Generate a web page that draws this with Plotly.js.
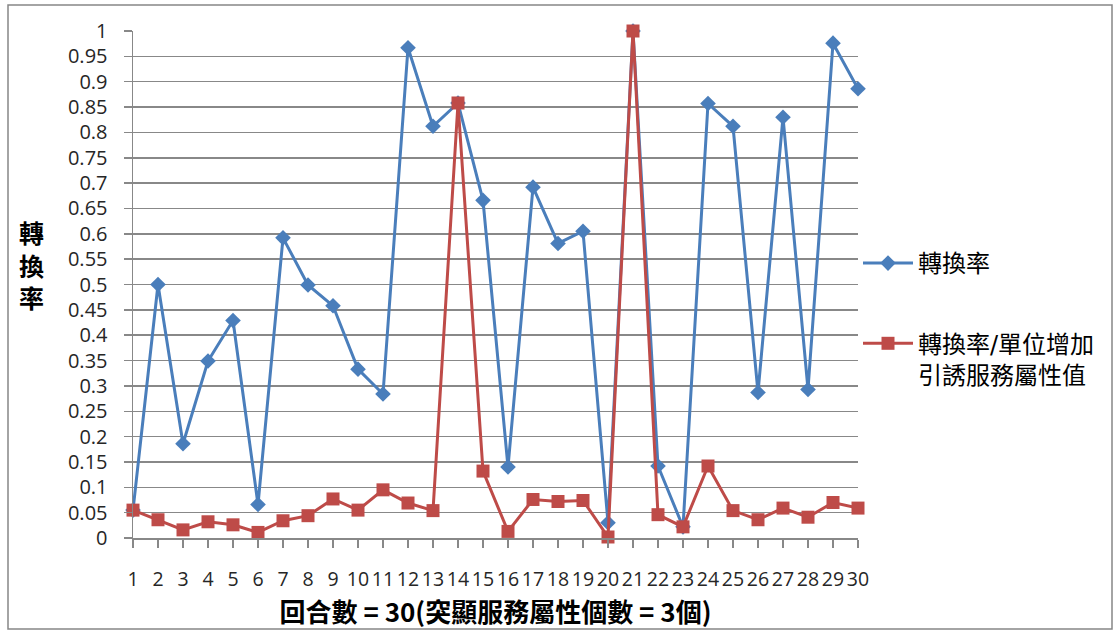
<!DOCTYPE html>
<html>
<head>
<meta charset="utf-8">
<script src="https://cdn.plot.ly/plotly-3.0.1.min.js"></script>
<style>
  html, body { margin: 0; padding: 0; background: #ffffff; }
  #chart { width: 1120px; height: 634px; }
</style>
</head>
<body>
<div id="chart"></div>
<script>
// ---- data ----
const rounds = [1, 2, 3, 4, 5, 6, 7, 8, 9, 10, 11, 12, 13, 14, 15, 16, 17, 18, 19, 20, 21, 22, 23, 24, 25, 26, 27, 28, 29, 30];
const roundLabels = ['1', '2', '3', '4', '5', '6', '7', '8', '9', '10', '11', '12', '13', '14', '15', '16', '17', '18', '19', '20', '21', '22', '23', '24', '25', '26', '27', '28', '29', '30'];
const conversionRate = [0.055, 0.5, 0.186, 0.349, 0.429, 0.066, 0.592, 0.499, 0.458, 0.333, 0.284, 0.967, 0.812, 0.858, 0.666, 0.14, 0.692, 0.581, 0.605, 0.03, 1.0, 0.142, 0.022, 0.857, 0.812, 0.287, 0.83, 0.293, 0.976, 0.886];
const ratePerUnit = [0.055, 0.036, 0.016, 0.032, 0.026, 0.011, 0.034, 0.044, 0.077, 0.055, 0.095, 0.069, 0.054, 0.858, 0.132, 0.013, 0.076, 0.072, 0.074, 0.002, 1.0, 0.046, 0.022, 0.142, 0.054, 0.036, 0.059, 0.041, 0.07, 0.059];
const yTickVals = [0, 0.05, 0.1, 0.15, 0.2, 0.25, 0.3, 0.35, 0.4, 0.45, 0.5, 0.55, 0.6, 0.65, 0.7, 0.75, 0.8, 0.85, 0.9, 0.95, 1];
const yTickText = ['0', '0.05', '0.1', '0.15', '0.2', '0.25', '0.3', '0.35', '0.4', '0.45', '0.5', '0.55', '0.6', '0.65', '0.7', '0.75', '0.8', '0.85', '0.9', '0.95', '1'];
const seriesNames = ['轉換率', '轉換率/單位增加<br>引誘服務屬性值'];
const xTitle = '回合數 = 30(突顯服務屬性個數 = 3個)';
const yTitleChars = ['轉', '換', '率'];

const blue = '#4a7ebb';
const red = '#be4b48';
const grid = '#888888';
const cjk = '"DejaVu Sans", "Noto Sans CJK TC", sans-serif';
const cjkTitle = '"Noto Sans CJK TC", "Noto Sans CJK SC", sans-serif';
const num = '"Open Sans", "Liberation Sans", sans-serif';

const traces = [
  {
    x: rounds, y: conversionRate, name: seriesNames[0], legendgroup: 'a',
    type: 'scatter', mode: 'lines+markers', cliponaxis: false,
    line: { color: blue, width: 3 },
    marker: { symbol: 'diamond', size: 12, color: blue }
  },
  {
    x: rounds, y: ratePerUnit, name: seriesNames[1], legendgroup: 'b',
    type: 'scatter', mode: 'lines+markers', cliponaxis: false,
    line: { color: red, width: 3 },
    marker: { symbol: 'square', size: 13, color: red }
  }
];

const L = 133, R = 262, T = 31, B = 96, W = 1120, H = 634;
const pw = W - L - R, ph = H - T - B;
function px2x(p) { return (p - L) / pw; }
function px2y(p) { return 1 - (p - T) / ph; }

const yTitleY = [234, 267, 299];
const annotations = yTitleChars.map((c, i) => ({
  text: c, xref: 'paper', yref: 'paper',
  x: px2x(31), y: px2y(yTitleY[i]), xanchor: 'center', yanchor: 'middle',
  showarrow: false,
  font: { family: cjk, size: 25, weight: 700, color: '#000000' }
}));

const layout = {
  width: W, height: H,
  margin: { l: L, r: R, t: T, b: B, pad: 0 },
  paper_bgcolor: '#ffffff', plot_bgcolor: '#ffffff',
  showlegend: true,
  xaxis: {
    range: [1, 30], tickmode: 'array', tickvals: rounds, ticktext: roundLabels,
    tickangle: 0,
    showgrid: false, zeroline: false,
    showline: true, linecolor: grid, linewidth: 1.5,
    ticks: 'outside', ticklen: 8, tickwidth: 1.5, tickcolor: grid,
    tickfont: { family: num, size: 19.5, color: '#262626' },
    ticklabelstandoff: 15,
    title: { text: xTitle, font: { family: cjkTitle, size: 26, weight: 700, color: '#000000' }, standoff: 2 }
  },
  yaxis: {
    range: [0, 1], tickmode: 'array', tickvals: yTickVals, ticktext: yTickText,
    showgrid: true, gridcolor: grid, gridwidth: 1.5, zeroline: false,
    showline: true, linecolor: grid, linewidth: 1.5,
    ticks: 'outside', ticklen: 8, tickwidth: 1.5, tickcolor: grid,
    tickfont: { family: num, size: 20, color: '#262626' },
    ticklabelstandoff: 12
  },
  legend: {
    x: px2x(858), y: px2y(241), xanchor: 'left', yanchor: 'top',
    font: { family: cjk, size: 24, color: '#000000' },
    bgcolor: 'rgba(0,0,0,0)', borderwidth: 0,
    tracegroupgap: 46, itemwidth: 50, valign: 'top'
  },
  annotations: annotations,
  shapes: [
    {
      type: 'rect', xref: 'paper', yref: 'paper', layer: 'below',
      x0: px2x(8), x1: px2x(1112), y0: px2y(629), y1: px2y(5),
      line: { color: '#868686', width: 1.5 }, fillcolor: 'rgba(0,0,0,0)'
    }
  ]
};

Plotly.newPlot('chart', traces, layout, { staticPlot: true, displayModeBar: false });
</script>
</body>
</html>
